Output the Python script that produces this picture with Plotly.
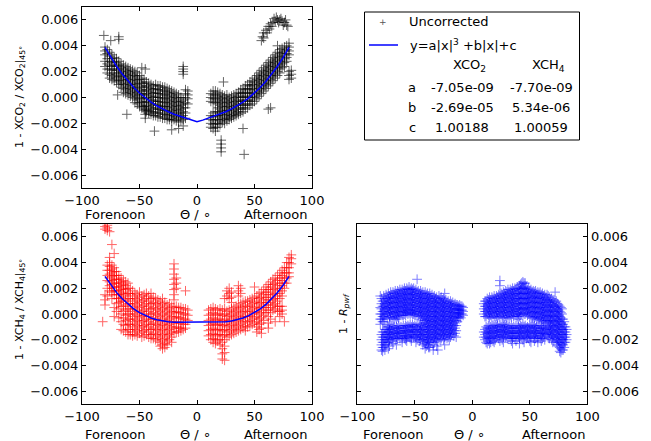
import plotly.graph_objects as go

W, H = 651, 441
SCALE = 1e-4  # values below are in units of 1e-4

# ---------------- data (units 1e-4) ----------------
co2_cols_x = [-80, -78, -76, -74, -72, -70, -68, -66, -64, -62, -60, -58, -56, -54, -52, -50,
              -48, -46, -44, -42, -40, -38, -36, -34, -32, -30, -28, -26, -24, -22, -20, -18,
              -16, -14, -12, -10, -8,
              12, 14, 16, 18, 20, 22, 24, 26, 28, 30, 32, 34, 36, 38, 40, 42, 44, 46, 48, 50,
              52, 54, 56, 58, 60, 62, 64, 66, 68, 70, 72, 74, 76, 78, 80, 82]
co2_cols_y = [
    [39, 36, 33, 28, 24], [37, 34, 30, 26, 22, 19], [35, 32, 28, 25, 22, 18, 15],
    [33, 30, 27, 24, 21, 17, 14], [31, 28, 25, 22, 19, 16, 13], [30, 27, 24, 21, 18, 15, 12],
    [28, 25, 22, 19, 16, 13, 10], [26, 23, 20, 17, 14, 11, 8], [25, 22, 19, 16, 13, 10, 7, 4],
    [24, 21, 18, 15, 12, 9, 6, 3], [23, 20, 17, 14, 11, 8, 5, 2], [22, 19, 16, 13, 10, 7, 4, 1],
    [21, 18, 15, 12, 9, 6, 3, 0], [20, 17, 14, 11, 8, 5, 2, -1, -4], [19, 16, 13, 10, 7, 4, 1, -2, -5],
    [17, 14, 11, 8, 5, 2, -1, -4, -7], [15, 12, 9, 6, 3, 0, -3, -6, -8], [14, 11, 8, 5, 2, -1, -4, -7, -9],
    [12, 9, 6, 3, 0, -3, -6, -9, -11], [11, 8, 5, 2, -1, -4, -7, -10, -12],
    [10, 7, 4, 1, -2, -5, -8, -11, -13], [9, 6, 3, 0, -3, -6, -9, -12, -14],
    [10, 7, 4, 1, -2, -5, -8, -11, -14], [9, 6, 3, 0, -3, -6, -9, -12, -15],
    [9, 6, 3, 0, -3, -6, -9, -12, -15], [8, 5, 2, -1, -4, -7, -10, -13, -16],
    [8, 5, 2, -1, -4, -7, -10, -13, -16], [7, 4, 1, -2, -5, -8, -11, -14, -17],
    [6, 3, 0, -3, -6, -9, -12, -15, -17], [5, 2, -1, -4, -7, -10, -13, -16, -18],
    [4, 1, -2, -5, -8, -11, -14, -17], [3, 0, -3, -6, -9, -12, -15, -18],
    [2, -1, -4, -7, -10, -13, -16, -19], [0, -3, -6, -9, -12, -15, -18],
    [24, 22, 20, 18, -2, -5, -8, -11, -14, -17], [6, 3, 0, -4, -8, -12, -16], [5, 2, -1, -5],
    [3, 0, -3, -14, -17, -20, -23], [5, 2, -1, -4, -12, -15, -18, -21, -24],
    [5, 2, -1, -4, -11, -14, -17, -20, -23, -26], [4, 1, -2, -5, -8, -11, -14, -17, -20, -23],
    [3, 0, -3, -6, -9, -12, -15, -18, -21], [2, -1, -4, -7, -10, -13, -16, -19],
    [1, -2, -5, -8, -11, -14, -17, -20], [2, -1, -4, -7, -10, -13, -16, -18],
    [0, -3, -6, -9, -12, -15, -17], [1, -2, -5, -8, -11, -14, -16], [2, -1, -4, -7, -10, -13, -15],
    [3, 0, -3, -6, -9, -12, -14], [4, 1, -2, -5, -8, -11, -13], [6, 3, 0, -3, -6, -9, -12],
    [7, 4, 1, -2, -5, -8, -11], [9, 6, 3, 0, -3, -6, -9], [10, 7, 4, 1, -2, -5, -8],
    [12, 9, 6, 3, 0, -3, -6], [13, 10, 7, 4, 1, -2, -5], [15, 12, 9, 6, 3, 0, -3],
    [17, 14, 11, 8, 5, 2, -1], [19, 16, 13, 10, 7, 4, 1], [21, 18, 15, 12, 9, 6, 3],
    [23, 20, 17, 14, 11, 8, 5], [25, 22, 19, 16, 13, 10, 7], [27, 24, 21, 18, 15, 12, 9],
    [29, 26, 23, 20, 17, 14, 11], [31, 28, 25, 22, 19, 16, 13], [33, 30, 27, 24, 21, 18, 15],
    [35, 32, 29, 26, 23, 20, 17], [37, 34, 31, 28, 25, 22, 19], [38, 35, 32, 29, 26, 23],
    [39, 36, 33, 30, 27, 24], [40, 37, 34, 31, 28], [42, 39, 36, 33, 20, 17, 14], [21, 18, 15],
]
co2_out_x = [-81, -75, -68, -68, -69, -61, -48, -45, -45, -45, -45, -37, -22, -16, -12,
             56, 57, 58, 58, 60, 61, 62, 63, 64, 65, 66, 67, 68, 69, 70, 71, 72, 73, 74, 75, 76, 77, 78, 79,
             23, 62, 70, 21, 21, 21, 21, 40, 41, 64]
co2_out_y = [48, 44, 47, 45, 2, -13, 23, 22, -10, -13, -16, -26, -25, -24, -22,
             44, 47, 50, 46, 52, 50, 55, 53, 57, 55, 58, 61, 59, 62, 60, 58, 60, 61, 59, 56, 58, 60, 56, 55,
             12, -9, 40, -33, -36, -39, -42, -24, -44, -8]

ch4_cols_x = [-82, -80, -78, -76, -74, -72, -70, -68, -66, -64, -62, -60, -58, -56, -54, -52, -50,
              -48, -46, -44, -42, -40, -38, -36, -34, -32, -30, -28, -26, -24, -22, -20, -18, -16,
              -14, -12, -10, -8,
              10, 12, 14, 16, 18, 20, 22, 24, 26, 28, 30, 32, 34, 36, 38, 40, 42, 44, 46, 48, 50,
              52, 54, 56, 58, 60, 62, 64, 66, 68, 70, 72, 74, 76, 78, 80, 82]
ch4_cols_y = [
    [-6], [15, 11, 7, 66, 68], [69, 67, 65, 38, 34, 30, 26, 20, 14],
    [64, 44, 40, 37, 34, 31, 28, 25, 22, 18], [54, 38, 35, 32, 29, 26, 23, 20, 17, 12],
    [47, 36, 33, 30, 27, 24, 21, 18, 15, 5, -2], [33, 30, 27, 24, 21, 18, 15, 12, 8, 2],
    [30, 27, 24, 21, 18, 15, 12, 9, 4, -3], [28, 25, 22, 19, 16, 13, 10, 6, 0, -6, -12],
    [26, 23, 20, 17, 14, 10, 6, 2, -3, -8, -13], [25, 22, 19, 15, 11, 7, 3, -1, -5, -9, -14],
    [24, 20, 16, 12, 8, 4, 0, -4, -8, -12, -16], [20, 16, 12, 8, 4, 0, -4, -8, -12, -16],
    [18, 14, 10, 6, 2, -2, -6, -10, -14, -17], [16, 12, 8, 4, 0, -4, -8, -12, -16],
    [15, 11, 7, 3, -1, -5, -9, -13, -17], [17, 13, 9, 5, 1, -3, -7, -11, -15],
    [14, 10, 6, 2, -2, -6, -10, -14, -18], [15, 11, 7, 3, -1, -5, -9, -13, -17],
    [16, 12, 8, 4, 0, -4, -8, -12, -16], [14, 10, 6, 2, -2, -6, -10, -14, -18],
    [16, 12, 8, 4, 0, -4, -8, -12, -16, -19], [13, 9, 5, 1, -3, -7, -11, -15, -19],
    [12, 8, 4, 0, -4, -8, -12, -16, -20], [11, 7, 3, -1, -5, -9, -13, -17, -21],
    [10, 6, 2, -2, -6, -10, -14, -18, -22, -25], [12, 8, 4, 0, -4, -8, -12, -16, -20, -24, -27],
    [9, 5, 1, -3, -7, -11, -15, -19, -23, -26], [7, 3, -1, -5, -9, -13, -17, -21, -24],
    [8, 4, 0, -4, -8, -12, -16, -20], [6, 2, -2, -6, -10, -14, -18, -22],
    [39, 35, 31, 27, 23, 19, 15, 11, 5, 1, -3, -7, -11, -15], [28, 24, 20, 6, 2, -2, -6, -10, -14],
    [5, 1, -3, -7, -11, -14], [5, 1, -3, -7, -11, -13], [4, 0, -4, -8, -12],
    [18, 4, 0, -4, -8, -11], [3, -1, -5],
    [3, -1, -5, -9, -13, -17], [4, 0, -4, -8, -12, -16, -20], [5, 1, -3, -7, -11, -15, -19, -22],
    [4, 0, -4, -8, -12, -16, -20, -23], [3, -1, -5, -9, -13, -17, -21],
    [4, 0, -4, -8, -12, -16, -20, -24], [3, -1, -5, -9, -13, -17, -22, -27, -31, -35],
    [12, 4, 0, -4, -8, -12, -16, -20, -25, -30, -36], [18, 14, 2, -2, -6, -10, -14, -18],
    [20, 16, 12, 3, -1, -5, -9, -13, -17], [17, 13, 9, 4, 0, -4, -8, -12, -16],
    [5, 1, -3, -7, -11, -15], [6, 2, -2, -6, -10, -14], [22, 18, 14, 7, 3, -1, -5, -9, -13],
    [20, 16, 8, 4, 0, -4, -8, -12], [9, 5, 1, -3, -7, -11], [10, 6, 2, -2, -6, -10, -13],
    [10, 6, 2, -2, -6, -10], [11, 7, 3, -1, -5, -9], [12, 8, 4, 0, -4, -8],
    [21, 13, 9, 5, 1, -3, -7], [14, 10, 6, 2, -2, -6, -10, -14], [16, 12, 8, 4, 0, -4, -8, -12],
    [17, 13, 9, 5, 1, -3, -7, -11, -15], [19, 15, 11, 7, 3, -1, -5], [21, 17, 13, 9, 5, 1],
    [23, 19, 15, 11, 7, 3, -2, -7, -11], [25, 21, 17, 13, 9, 5, 1, -4], [27, 23, 19, 15, 11, 7, 3],
    [28, 24, 20, 16, 12, 8, 4, -6], [30, 26, 22, 18, 14, 10, 6, 2], [32, 28, 24, 20, 16, 12, 6, 2, -2],
    [34, 30, 26, 22, 18, 14, 6, 3, 0], [36, 32, 28, 24, 20, -6], [40, 36, 32, 28, 24],
    [44, 40, 36, 32, 29], [46, 43, 39],
]

pwf_cols_x = [-80, -78, -76, -74, -72, -70, -68, -66, -64, -62, -60, -58, -56, -54, -52, -50,
              -48, -46, -44, -42, -40, -38, -36, -34, -32, -30, -28, -26, -24, -22, -20, -18,
              -16, -14, -12, -10, -8,
              10, 12, 14, 16, 18, 20, 22, 24, 26, 28, 30, 32, 34, 36, 38, 40, 42, 44, 46, 48, 50,
              52, 54, 56, 58, 60, 62, 64, 66, 68, 70, 72, 74, 76, 78, 80, 82]
pwf_cols_y = [
    [14, 5, 0, -4, -8], [10, 6, 2, -2, -6, -14, -18, -22, -26, -29],
    [12, 8, 4, 0, -4, -12, -16, -20, -24, -28], [13, 9, 5, 1, -3, -10, -14, -18, -22],
    [14, 10, 6, 2, -2, -8, -12, -16, -20, -25], [15, 11, 7, 3, -1, -9, -13, -17, -21],
    [16, 12, 8, 4, 0, -4, -10, -14, -18], [16, 12, 8, 4, 0, -4, -10, -14, -18, -24],
    [17, 13, 9, 5, 1, -3, -9, -13, -17], [17, 13, 9, 5, 1, -10, -14, -18],
    [18, 14, 10, 6, 2, -1, -9, -13, -17], [18, 14, 10, 6, 2, -1, -9, -13, -17, -20],
    [19, 15, 11, 7, 3, 0, -9, -13, -17], [19, 15, 11, 7, 3, 0, -8, -12, -16, -19],
    [19, 15, 11, 7, 3, 0, -8, -12, -16], [18, 14, 10, 6, 2, -1, -9, -13, -17],
    [27, 17, 13, 9, 5, 1, -8, -12, -16, -20], [16, 12, 8, 4, 0, -9, -13, -17, -21],
    [16, 12, 8, 4, 0, -4, -10, -14, -18], [15, 11, 7, 3, -1, -5, -10, -14, -18, -22],
    [15, 11, 7, 3, -1, -5, -9, -13, -17, -21, -25], [14, 10, 6, 2, -2, -6, -10, -14, -18, -22, -26],
    [14, 10, 6, 2, -2, -6, -10, -14, -18, -22], [13, 9, 5, 1, -3, -7, -11, -15, -19, -24, -28],
    [12, 8, 4, 0, -4, -8, -12, -16, -20], [11, 7, 3, -1, -5, -9, -13, -17, -21, -28],
    [12, 8, 4, 0, -4, -8, -12, -16, -20], [11, 7, 3, -1, -5, -9, -13, -17],
    [16, 10, 6, 2, -2, -6, -10, -14, -18, -24], [9, 5, 1, -3, -7, -11, -15, -19],
    [8, 4, 0, -4, -8, -12, -16, -20], [8, 4, 0, -4, -8, -12, -16], [7, 3, -1, -5, -9, -13, -17],
    [7, 3, -1, -5, -9, -13, -18], [6, 3, 0, -3], [6, 3, 0, -3], [5, 2, -1],
    [8, 4, 0, -14, -18], [10, 6, 2, -2, -10, -14, -18, -22], [11, 7, 3, -1, -9, -13, -17, -21],
    [11, 7, 3, -1, -10, -14, -18, -22], [12, 8, 4, 0, -9, -13, -17, -21],
    [12, 8, 4, 0, -8, -12, -16, -20], [13, 9, 5, 1, -3, -9, -13, -17],
    [26, 22, 14, 10, 6, 2, -2, -9, -13, -17, -21], [15, 11, 7, 3, -1, -8, -12, -16, -20],
    [16, 12, 8, 4, 0, -8, -12, -16], [17, 13, 9, 5, 1, -3, -9, -13, -17],
    [17, 13, 9, 5, 1, -3, -10, -14, -18], [18, 14, 10, 6, 2, -2, -9, -13, -17, -21],
    [18, 14, 10, 6, 2, -2, -10, -14, -18], [19, 15, 11, 7, 3, -1, -9, -13, -17, -21],
    [20, 16, 12, 8, 4, 0, -4, -10, -14, -18], [23, 19, 15, 11, 7, 3, -1, -9, -13, -17],
    [25, 21, 17, 13, 9, 5, 1, -8, -12, -16, -20], [24, 20, 16, 12, 8, 4, 0, -9, -13, -17],
    [19, 15, 11, 7, 3, -1, -10, -14, -18], [18, 14, 10, 6, 2, -2, -9, -13, -17, -21],
    [17, 13, 9, 5, 1, -3, -8, -12, -16], [17, 13, 9, 5, 1, -3, -9, -13, -17, -21],
    [16, 12, 8, 4, 0, -4, -10, -14, -18], [16, 12, 8, 4, 0, -4, -9, -13, -17],
    [15, 11, 7, 3, -1, -5, -9, -13, -17, -21], [14, 10, 6, 2, -2, -6, -10, -14, -18],
    [13, 9, 5, 1, -3, -7, -11, -15], [14, 10, 6, 2, -2, -6, -10, -14, -18],
    [11, 7, 3, -1, -5, -9, -13, -17], [10, 6, 2, -2, -6, -10, -14, -18, -22],
    [17, 9, 5, 1, -3, -7, -11, -15, -19], [8, 4, 0, -4, -8, -12, -16, -20, -24],
    [6, 2, -2, -6, -10, -14, -18, -22, -26, -29], [4, 0, -4, -8, -12, -16, -20, -24, -28],
    [-6, -10, -14, -18, -22, -26], [-12, -16, -20],
]
pwf_cols2_x = [-79, -77, -75, -73, -71, -69, -67, -65, -63, -61, -59, -57, -55, -53, -51, -49,
               -47, -45, -43, -41, -39, -37, -35, -33, -31, -29, -27, -25, -23, -21, -19, -17,
               -15, -13, -11, -9,
               11, 13, 15, 17, 19, 21, 23, 25, 27, 29, 31, 33, 35, 37, 39, 41, 43, 45, 47, 49,
               51, 53, 55, 57, 59, 61, 63, 65, 67, 69, 71, 73, 75, 77, 79, 81]
pwf_cols2_y = [
    [12, 8, 4, 0, -4, -16, -20, -24, -28], [14, 10, 6, 2, -2, -6, -14, -18, -22, -26],
    [15, 11, 7, 3, -1, -12, -16, -20, -24], [16, 12, 8, 4, 0, -10, -14, -18, -22, -27],
    [17, 13, 9, 5, 1, -3, -11, -15, -19], [17, 13, 9, 5, 1, -3, -11, -15, -19, -23],
    [18, 14, 10, 6, 2, -2, -12, -16, -20], [18, 14, 10, 6, 2, -2, -11, -15, -19],
    [19, 15, 11, 7, 3, -1, -11, -15, -19], [19, 15, 11, 7, 3, -1, -11, -15, -19, -22],
    [20, 16, 12, 8, 4, 0, -11, -15, -19], [20, 16, 12, 8, 4, 1, -10, -14, -18, -21],
    [21, 17, 13, 9, 5, 1, -10, -14, -18], [20, 17, 13, 9, 5, 1, -10, -14, -18, -21],
    [20, 16, 12, 8, 4, 0, -10, -14, -18], [19, 15, 11, 7, 3, -1, -10, -14, -18, -22],
    [18, 14, 10, 6, 2, -2, -11, -15, -19], [18, 14, 10, 6, 2, -2, -8, -12, -16, -20],
    [17, 13, 9, 5, 1, -3, -7, -12, -16, -20, -24], [17, 13, 9, 5, 1, -3, -7, -11, -15, -19, -23, -27],
    [16, 12, 8, 4, 0, -4, -8, -12, -16, -20, -24], [16, 12, 8, 4, 0, -4, -8, -12, -16, -20, -26],
    [15, 11, 7, 3, -1, -5, -9, -13, -17, -21], [14, 10, 6, 2, -2, -6, -10, -14, -18, -22],
    [13, 9, 5, 1, -3, -7, -11, -15, -19, -25], [14, 10, 6, 2, -2, -6, -10, -14, -18],
    [13, 9, 5, 1, -3, -7, -11, -15, -19], [12, 8, 4, 0, -4, -8, -12, -16, -20],
    [11, 7, 3, -1, -5, -9, -13, -17], [10, 6, 2, -2, -6, -10, -14, -18],
    [10, 6, 2, -2, -6, -10, -14, -18], [9, 5, 1, -3, -7, -11, -15], [8, 4, 1, -3, -7, -11, -15],
    [7, 4, 1, -2, -6], [7, 4, 1, -2], [6, 3, 0],
    [10, 6, 2, -2, -12, -16, -20], [12, 8, 4, 0, -11, -15, -19, -23],
    [13, 9, 5, 1, -3, -11, -15, -19, -23], [13, 9, 5, 1, -3, -11, -15, -19],
    [14, 10, 6, 2, -2, -10, -14, -18, -22], [14, 10, 6, 2, -2, -10, -14, -18],
    [15, 11, 7, 3, -1, -11, -15, -19], [16, 12, 8, 4, 0, -10, -14, -18],
    [17, 13, 9, 5, 1, -3, -10, -14, -18, -22], [18, 14, 10, 6, 2, -2, -10, -14, -18],
    [19, 15, 11, 7, 3, -1, -11, -15, -19], [19, 15, 11, 7, 3, -1, -11, -15, -19],
    [20, 16, 12, 8, 4, 0, -11, -15, -19, -23], [20, 16, 12, 8, 4, 0, -11, -15, -19],
    [21, 17, 13, 9, 5, 1, -2, -11, -15, -19], [22, 18, 14, 10, 6, 2, -2, -11, -15, -19, -23],
    [24, 20, 16, 12, 8, 4, 0, -10, -14, -18], [24, 20, 16, 12, 8, 4, 0, -10, -14, -18, -22],
    [21, 17, 13, 9, 5, 1, -11, -15, -19], [20, 16, 12, 8, 4, 0, -11, -15, -19],
    [19, 15, 11, 7, 3, -1, -10, -14, -18, -22], [18, 14, 10, 6, 2, -2, -10, -14, -18],
    [18, 14, 10, 6, 2, -2, -11, -15, -19], [17, 13, 9, 5, 1, -3, -11, -15, -19, -22],
    [17, 13, 9, 5, 1, -3, -11, -15, -19], [16, 12, 8, 4, 0, -4, -11, -15, -19],
    [15, 11, 7, 3, -1, -5, -12, -16, -20], [15, 11, 7, 3, -1, -5, -12, -16],
    [13, 9, 5, 1, -3, -7, -11, -15, -19], [12, 8, 4, 0, -4, -8, -12, -16, -20],
    [11, 7, 3, -1, -5, -9, -13, -17, -21], [10, 6, 2, -2, -6, -10, -14, -18, -22],
    [7, 3, -1, -5, -9, -13, -17, -21, -25], [5, 1, -3, -7, -11, -15, -19, -23, -27, -30],
    [-4, -8, -12, -16, -20, -24, -28], [-10, -14, -18, -22],
]

# fitted curves y = 1 - (a|x|^3 + b|x| + c), values read at 5 degree steps (units 1e-4)
fit_x = [-80, -75, -70, -65, -60, -55, -50, -45, -40, -35, -30, -25, -20, -15, -10, -5, 0,
         5, 10, 15, 20, 25, 30, 35, 40, 45, 50, 55, 60, 65, 70, 75, 80]
fit_co2 = [38.8, 31.1, 24.2, 18.1, 12.6, 7.7, 3.5, -0.3, -3.5, -6.4, -8.8, -11.0, -12.9, -14.5,
           -16.0, -17.5, -18.8, -17.5, -16.0, -14.5, -12.9, -11.0, -8.8, -6.4, -3.5, -0.3, 3.5,
           7.7, 12.6, 18.1, 24.2, 31.1, 38.8]
fit_ch4 = [29.3, 22.6, 16.8, 11.8, 7.5, 4.0, 1.1, -1.3, -3.1, -4.5, -5.4, -6.0, -6.4, -6.4,
           -6.4, -6.2, -5.9, -6.2, -6.4, -6.4, -6.4, -6.0, -5.4, -4.5, -3.1, -1.3, 1.1, 4.0,
           7.5, 11.8, 16.8, 22.6, 29.3]

x_ticks = [-100, -50, 0, 50, 100]
y_ticks = [-0.006, -0.004, -0.002, 0.0, 0.002, 0.004, 0.006]

legend_rows = ["a", "b", "c"]
legend_co2 = ["-7.05e-09", "-2.69e-05", "1.00188"]
legend_ch4 = ["-7.70e-09", "5.34e-06", "1.00059"]


def flatten(cx, cy):
    xs, ys = [], []
    for x, col in zip(cx, cy):
        for v in col:
            xs.append(x)
            ys.append(v * SCALE)
    return xs, ys


def px(p):
    return p / W


def py(p):
    return 1 - p / H


FONT = "DejaVu Sans"
fig = go.Figure()


def marker(color, opacity=0.6):
    return dict(symbol="cross-thin", size=7, color=color, opacity=opacity,
                line=dict(width=1, color=color))


x1, y1 = flatten(co2_cols_x, co2_cols_y)
x1 += co2_out_x
y1 += [v * SCALE for v in co2_out_y]
fig.add_trace(go.Scatter(x=x1, y=y1, mode="markers", marker=marker("black"),
                         xaxis="x", yaxis="y", showlegend=False))
fig.add_trace(go.Scatter(x=fit_x, y=[v * SCALE for v in fit_co2], mode="lines",
                         line=dict(color="blue", width=1.5), xaxis="x", yaxis="y", showlegend=False))

x2, y2 = flatten(ch4_cols_x, ch4_cols_y)
fig.add_trace(go.Scatter(x=x2, y=y2, mode="markers", marker=marker("red"),
                         xaxis="x2", yaxis="y2", showlegend=False))
fig.add_trace(go.Scatter(x=fit_x, y=[v * SCALE for v in fit_ch4], mode="lines",
                         line=dict(color="blue", width=1.5), xaxis="x2", yaxis="y2", showlegend=False))

x3, y3 = flatten(pwf_cols_x, pwf_cols_y)
x3b, y3b = flatten(pwf_cols2_x, pwf_cols2_y)
fig.add_trace(go.Scatter(x=x3 + x3b, y=y3 + y3b, mode="markers", marker=marker("blue", 0.5),
                         xaxis="x3", yaxis="y3", showlegend=False))

xl = [px(82), px(312)]
xr = [px(357.3), px(587.3)]
yt = [py(188), py(7)]
yb = [py(404), py(224)]

tickfont = dict(family=FONT, size=13, color="black")


def xax(domain, anchor):
    return dict(domain=domain, anchor=anchor, range=[-100, 100], tickvals=x_ticks,
                ticks="inside", ticklen=4, tickcolor="black", showline=True, linecolor="black",
                linewidth=1, mirror="ticks", showgrid=False, zeroline=False, tickfont=tickfont,
                automargin=False)


def yax(domain, anchor, side="left"):
    return dict(domain=domain, anchor=anchor, range=[-0.007, 0.007], tickvals=y_ticks,
                tickformat=".3f", ticks="inside", ticklen=4, tickcolor="black", showline=True,
                linecolor="black", linewidth=1, mirror="ticks", showgrid=False, zeroline=False,
                tickfont=tickfont, side=side, automargin=False)


fig.update_layout(
    template="none",
    width=W, height=H, margin=dict(l=0, r=0, t=0, b=0),
    paper_bgcolor="white", plot_bgcolor="white",
    font=dict(family=FONT, size=13, color="black"),
    xaxis=xax(xl, "y"), yaxis=yax(yt, "x"),
    xaxis2=xax(xl, "y2"), yaxis2=yax(yb, "x2"),
    xaxis3=xax(xr, "y3"), yaxis3=yax(yb, "x3", side="right"),
)

ann = []


def text(t, x, y, xanchor="center", size=13, angle=0, color="black"):
    ann.append(dict(text=t, x=px(x), y=py(y), xref="paper", yref="paper", showarrow=False,
                    xanchor=xanchor, yanchor="middle", textangle=angle,
                    font=dict(family=FONT, size=size, color=color)))


# x-axis labels
for yy in (215, 434):
    text("Forenoon", 83, yy, "left")
    text("Θ / ∘", 195, yy)
    text("Afternoon", 309, yy, "right")
text("Forenoon", 361, 434, "left")
text("Θ / ∘", 469, 434)
text("Afternoon", 587, 434, "right")

# y-axis titles
text("1 - XCO<sub>2</sub> / XCO<sub>2</sub>|<sub>45°</sub>", 20, 97, size=11, angle=-90)
text("1 - XCH<sub>4</sub> / XCH<sub>4</sub>|<sub>45°</sub>", 20, 310, size=11, angle=-90)
text("1 - <i>R</i><sub><i>pwf</i></sub>", 344, 314, size=11, angle=-90)

# legend box content
text("+", 383, 22, size=9, color="#555555")
text("Uncorrected", 407, 22, "left")
text("y=a|x|<sup>3</sup> +b|x|+c", 408, 45, "left")
text("XCO<sub>2</sub>", 469, 66)
text("XCH<sub>4</sub>", 548, 66)
for i, (r, c1, c2) in enumerate(zip(legend_rows, legend_co2, legend_ch4)):
    yy = 87 + 20 * i
    text(r, 412, yy)
    text(c1, 462, yy)
    text(c2, 541, yy)

fig.update_layout(annotations=ann)
fig.add_shape(type="rect", xref="paper", yref="paper", x0=px(364.5), x1=px(579.5),
              y0=py(140), y1=py(12), line=dict(color="black", width=1))
fig.add_shape(type="line", xref="paper", yref="paper", x0=px(369), x1=px(398),
              y0=py(45), y1=py(45), line=dict(color="blue", width=1.5))

fig.write_html("out.html", config={"displayModeBar": False},
               post_script="document.body.style.margin='0';")
